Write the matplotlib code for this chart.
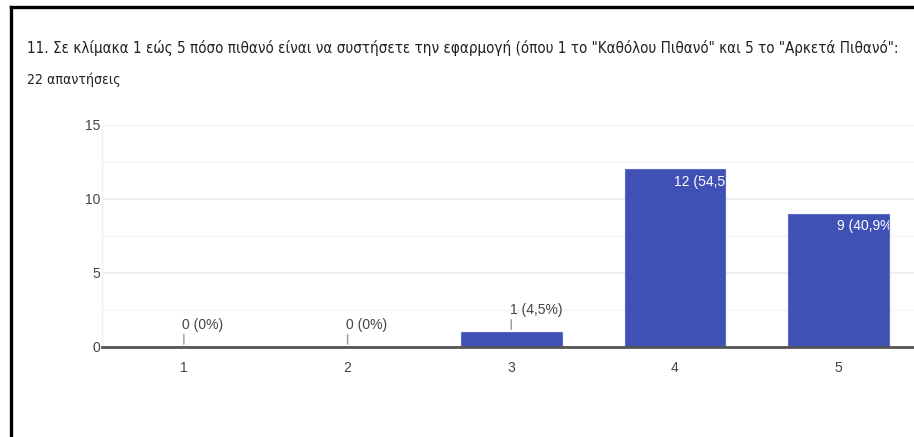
import matplotlib

matplotlib.use("Agg")
import matplotlib.pyplot as plt  # noqa: E402
from matplotlib.lines import Line2D  # noqa: E402

TITULO = ('11. Σε κλίμακα 1 εώς 5 πόσο πιθανό είναι να συστήσετε την εφαρμογή '
          '(όπου 1 το "Καθόλου Πιθανό" και 5 το "Αρκετά Πιθανό":')
SUBTITULO = "22 απαντήσεις"

categorias = ["1", "2", "3", "4", "5"]
respostas = [0, 0, 1, 12, 9]
rotulos = ["0 (0%)", "0 (0%)", "1 (4,5%)", "12 (54,5%)", "9 (40,9%)"]
yticks = [0, 5, 10, 15]

AZUL = "#3f51b5"
TEXTO = "#444444"
W, H = 914, 437

fig = plt.figure(figsize=(W / 100, H / 100), dpi=100)
ax = fig.add_axes([102 / W, (H - 347) / H, (W - 102) / W, (347 - 125) / H])

x = list(range(1, len(categorias) + 1))
barras = ax.bar(x, respostas, width=0.615, color=AZUL, edgecolor="#5c6bc8",
                linewidth=0.8, zorder=3)

ax.set_xlim(0.5, 5.46)
ax.set_ylim(0, 15)
ax.set_yticks(yticks)
ax.set_yticklabels([str(v) for v in yticks])
ax.set_yticks([2.5, 7.5, 12.5], minor=True)
ax.set_xticks(x, categorias)
ax.grid(axis="y", which="major", color="#ebebeb", linewidth=1.2, zorder=0)
ax.grid(axis="y", which="minor", color="#f4f4f4", linewidth=1.0, zorder=0)
ax.tick_params(axis="both", which="both", length=0, labelsize=10,
               labelcolor=TEXTO)
ax.tick_params(axis="y", pad=1)
ax.tick_params(axis="x", pad=10)
for lbl in ax.get_xticklabels() + ax.get_yticklabels():
    lbl.set_fontfamily("Liberation Sans")

for s in ("top", "right"):
    ax.spines[s].set_visible(False)
ax.spines["left"].set_color("#f0f0f0")
ax.spines["left"].set_linewidth(1.0)
ax.spines["bottom"].set_color("#555555")
ax.spines["bottom"].set_linewidth(2.0)
ax.spines["bottom"].set_zorder(4)

# rótulos: fora da barra com linha guia (valores pequenos), dentro quando cabe
for xi, v, txt, b in zip(x, respostas, rotulos, barras):
    if v < 3:
        ax.annotate("", xy=(xi, v), xytext=(0, 11), textcoords="offset points",
                    arrowprops=dict(arrowstyle="-", color="#999999", lw=1.0),
                    zorder=5)
        ax.annotate(txt, xy=(xi, v), xytext=(-1, 11), textcoords="offset points",
                    ha="left", va="bottom", fontsize=10, color=TEXTO,
                    family="Liberation Sans")
    else:
        t = ax.annotate(txt, xy=(xi, v), xytext=(-1, -4),
                        textcoords="offset points", ha="left", va="top",
                        fontsize=10, color="white", family="Liberation Sans",
                        zorder=6)
        t.set_clip_path(b)

titulo = fig.text(27 / W, 1 - 48 / H, TITULO, fontsize=13, color="#202124",
                  family="DejaVu Sans", stretch="condensed",
                  va="center", ha="left")
sub = fig.text(27 / W, 1 - 80 / H, SUBTITULO, fontsize=10, color="#202124",
               family="DejaVu Sans", stretch="condensed",
               va="center", ha="left")

# ajusta o tamanho para ocupar a mesma largura da captura
fig.canvas.draw()
rend = fig.canvas.get_renderer()
for t, largura in ((titulo, 866), (sub, 93)):
    w = t.get_window_extent(rend).width
    t.set_fontsize(t.get_fontsize() * largura / w)

# moldura preta da captura (só topo e esquerda)
fig.add_artist(Line2D([10.5 / W, 10.5 / W], [0, 1 - 6.5 / H],
                      transform=fig.transFigure, color="black", lw=2.4,
                      solid_capstyle="projecting"))
fig.add_artist(Line2D([10.5 / W, 1], [1 - 6.5 / H, 1 - 6.5 / H],
                      transform=fig.transFigure, color="black", lw=2.4,
                      solid_capstyle="projecting"))

fig.savefig("out.png", dpi=100)
